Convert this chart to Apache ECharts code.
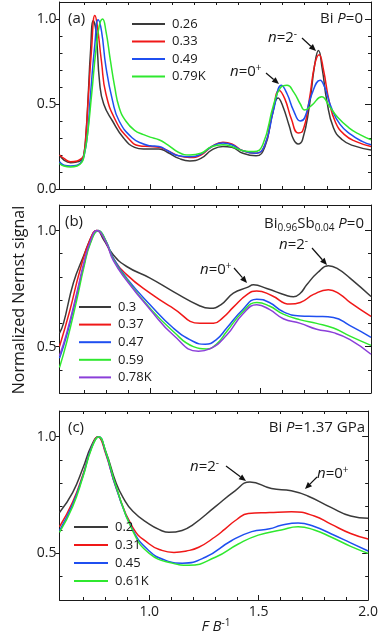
<!DOCTYPE html>
<html>
<head>
<meta charset="utf-8">
<script src="https://cdn.jsdelivr.net/npm/echarts@6/dist/echarts.min.js"></script>
<style>
  html, body { margin: 0; padding: 0; background: #fff; }
  #main { width: 381px; height: 636px; }
</style>
</head>
<body>
<div id="main"></div>
<script>
// ---- data: [F B^-1, normalized Nernst signal] ----
// (a) Bi, P=0
var aNames = ['0.26', '0.33', '0.49', '0.79K'];
var a026 = [[0.59,0.20],[0.61,0.17],[0.64,0.155],[0.67,0.16],[0.69,0.17],[0.70,0.20],[0.71,0.33],[0.72,0.55],[0.73,0.80],[0.743,0.99],[0.755,0.93],[0.772,0.62],[0.79,0.50],[0.83,0.40],[0.88,0.30],[0.93,0.245],[0.97,0.235],[1.0,0.235],[1.04,0.235],[1.08,0.215],[1.13,0.18],[1.18,0.165],[1.23,0.18],[1.28,0.23],[1.33,0.25],[1.37,0.245],[1.42,0.21],[1.48,0.195],[1.52,0.25],[1.55,0.42],[1.58,0.535],[1.60,0.49],[1.63,0.37],[1.65,0.29],[1.67,0.265],[1.69,0.29],[1.72,0.48],[1.745,0.73],[1.762,0.814],[1.78,0.70],[1.80,0.52],[1.83,0.36],[1.87,0.29],[1.92,0.255],[2.0,0.23]];
var a033 = [[0.59,0.20],[0.61,0.18],[0.64,0.16],[0.67,0.165],[0.69,0.18],[0.70,0.20],[0.71,0.32],[0.72,0.53],[0.735,0.82],[0.75,1.02],[0.76,0.97],[0.78,0.75],[0.80,0.56],[0.845,0.40],[0.90,0.30],[0.95,0.255],[1.0,0.25],[1.04,0.245],[1.08,0.225],[1.13,0.195],[1.18,0.185],[1.23,0.20],[1.28,0.25],[1.33,0.275],[1.37,0.265],[1.42,0.225],[1.48,0.21],[1.52,0.26],[1.555,0.45],[1.585,0.58],[1.61,0.53],[1.64,0.41],[1.67,0.33],[1.69,0.34],[1.72,0.52],[1.745,0.73],[1.765,0.79],[1.785,0.70],[1.81,0.52],[1.84,0.39],[1.88,0.32],[1.93,0.28],[2.0,0.25]];
var a049 = [[0.59,0.16],[0.61,0.14],[0.64,0.135],[0.67,0.14],[0.69,0.16],[0.70,0.19],[0.715,0.30],[0.73,0.55],[0.75,0.85],[0.765,0.995],[0.78,0.93],[0.80,0.72],[0.83,0.52],[0.86,0.40],[0.92,0.30],[0.97,0.265],[1.0,0.255],[1.04,0.25],[1.08,0.225],[1.13,0.195],[1.18,0.19],[1.23,0.205],[1.28,0.25],[1.33,0.27],[1.37,0.26],[1.42,0.225],[1.48,0.21],[1.52,0.26],[1.56,0.47],[1.595,0.61],[1.62,0.56],[1.65,0.46],[1.68,0.40],[1.70,0.42],[1.73,0.55],[1.77,0.64],[1.79,0.60],[1.82,0.48],[1.86,0.38],[1.91,0.32],[1.96,0.28],[2.0,0.26]];
var a079 = [[0.59,0.15],[0.61,0.135],[0.64,0.13],[0.67,0.135],[0.69,0.155],[0.70,0.19],[0.715,0.30],[0.735,0.55],[0.755,0.82],[0.77,0.96],[0.785,1.0],[0.80,0.93],[0.82,0.76],[0.84,0.60],[0.86,0.48],[0.89,0.40],[0.93,0.345],[0.97,0.32],[1.0,0.305],[1.04,0.29],[1.08,0.26],[1.13,0.215],[1.18,0.20],[1.23,0.21],[1.28,0.25],[1.33,0.26],[1.37,0.25],[1.42,0.225],[1.47,0.22],[1.51,0.26],[1.56,0.50],[1.59,0.595],[1.62,0.61],[1.65,0.57],[1.68,0.50],[1.70,0.465],[1.73,0.49],[1.777,0.543],[1.81,0.49],[1.85,0.42],[1.90,0.36],[1.95,0.32],[2.0,0.29]];

// (b) Bi0.96Sb0.04, P=0
var bNames = ['0.3', '0.37', '0.47', '0.59', '0.78K'];
var b030 = [[0.59,0.558],[0.608,0.60],[0.653,0.775],[0.698,0.888],[0.743,0.99],[0.759,1.0],[0.79,0.96],[0.834,0.895],[0.894,0.845],[1.0,0.795],[1.105,0.737],[1.226,0.675],[1.271,0.665],[1.32,0.68],[1.377,0.73],[1.44,0.755],[1.468,0.766],[1.528,0.75],[1.618,0.72],[1.649,0.715],[1.68,0.73],[1.709,0.766],[1.76,0.82],[1.807,0.848],[1.85,0.835],[1.905,0.795],[2.0,0.716]];
var b037 = [[0.59,0.50],[0.638,0.66],[0.683,0.83],[0.728,0.96],[0.759,1.0],[0.79,0.97],[0.834,0.88],[0.894,0.81],[1.0,0.73],[1.105,0.665],[1.226,0.60],[1.287,0.60],[1.33,0.625],[1.377,0.67],[1.44,0.725],[1.483,0.74],[1.55,0.72],[1.633,0.683],[1.68,0.69],[1.74,0.725],[1.807,0.745],[1.86,0.725],[1.905,0.69],[2.0,0.63]];
var b047 = [[0.59,0.45],[0.623,0.55],[0.668,0.72],[0.70,0.85],[0.73,0.95],[0.766,1.0],[0.80,0.955],[0.834,0.88],[0.894,0.795],[1.0,0.68],[1.105,0.58],[1.196,0.522],[1.249,0.51],[1.30,0.53],[1.347,0.58],[1.42,0.66],[1.483,0.704],[1.54,0.69],[1.603,0.65],[1.68,0.632],[1.754,0.63],[1.83,0.625],[1.905,0.59],[2.0,0.54]];
var b059 = [[0.59,0.41],[0.623,0.52],[0.668,0.70],[0.70,0.84],[0.73,0.945],[0.766,1.0],[0.80,0.955],[0.834,0.875],[0.894,0.79],[1.0,0.665],[1.105,0.565],[1.196,0.50],[1.256,0.49],[1.30,0.51],[1.347,0.565],[1.42,0.65],[1.483,0.69],[1.54,0.675],[1.603,0.64],[1.68,0.615],[1.754,0.60],[1.83,0.58],[1.905,0.545],[2.0,0.505]];
var b078 = [[0.59,0.46],[0.623,0.56],[0.668,0.73],[0.70,0.86],[0.73,0.955],[0.759,1.0],[0.80,0.95],[0.834,0.87],[0.894,0.785],[1.0,0.66],[1.105,0.55],[1.219,0.48],[1.27,0.49],[1.347,0.55],[1.42,0.64],[1.483,0.68],[1.54,0.66],[1.603,0.62],[1.68,0.60],[1.754,0.575],[1.83,0.56],[1.905,0.53],[2.0,0.467]];

// (c) Bi, P=1.37 GPa
var cNames = ['0.2', '0.31', '0.45', '0.61K'];
var c020 = [[0.59,0.675],[0.65,0.76],[0.698,0.868],[0.735,0.96],[0.766,1.0],[0.80,0.94],[0.849,0.80],[0.88,0.74],[0.925,0.68],[1.0,0.625],[1.05,0.60],[1.09,0.59],[1.15,0.598],[1.196,0.62],[1.302,0.70],[1.392,0.768],[1.46,0.806],[1.558,0.778],[1.649,0.768],[1.724,0.746],[1.83,0.697],[1.92,0.66],[2.0,0.65]];
var c031 = [[0.59,0.614],[0.65,0.72],[0.698,0.84],[0.735,0.95],[0.766,1.0],[0.80,0.93],[0.849,0.78],[0.925,0.61],[1.0,0.54],[1.05,0.515],[1.113,0.504],[1.17,0.51],[1.226,0.526],[1.30,0.57],[1.347,0.605],[1.40,0.645],[1.452,0.671],[1.55,0.675],[1.65,0.678],[1.754,0.66],[1.83,0.625],[1.92,0.585],[2.0,0.561]];
var c045 = [[0.59,0.597],[0.65,0.71],[0.698,0.835],[0.735,0.95],[0.77,1.0],[0.80,0.935],[0.849,0.78],[0.925,0.60],[1.0,0.51],[1.075,0.47],[1.151,0.458],[1.256,0.483],[1.377,0.555],[1.468,0.593],[1.55,0.605],[1.603,0.62],[1.68,0.63],[1.754,0.615],[1.83,0.584],[1.92,0.545],[2.0,0.51]];
var c061 = [[0.59,0.59],[0.65,0.70],[0.698,0.83],[0.735,0.945],[0.77,1.0],[0.80,0.94],[0.849,0.785],[0.925,0.595],[1.0,0.50],[1.105,0.458],[1.181,0.449],[1.302,0.483],[1.407,0.54],[1.498,0.578],[1.603,0.60],[1.68,0.614],[1.754,0.60],[1.83,0.57],[1.92,0.53],[2.0,0.50]];

var xLabels = [1.0, 1.5, 2.0];
var yLabelsA = [0.0, 0.5, 1.0];
var yLabelsBC = [0.5, 1.0];

var FONT = '"Open Sans", "DejaVu Sans", sans-serif';
var INK = '#1a1a1a';
var BLACK = '#3a3a3a', RED = '#f01818', BLUE = '#1f4ff0', GREEN = '#2fe82f', PURPLE = '#8b3fd9';

var myChart = echarts.init(document.getElementById('main'));

var grids = [
  { left: 59.5, top: 2, width: 311.5, height: 187 },
  { left: 59.5, top: 205, width: 311.5, height: 188 },
  { left: 59.5, top: 411, width: 311.5, height: 189 }
];
var yRange = [[0, 1.1], [0.3, 1.11], [0.3, 1.11]];
var xMin = 0.59, xMax = 2.0;

function steps(lo, hi, skip) {
  var out = [];
  for (var k = Math.round(lo * 10); k <= Math.round(hi * 10); k++) {
    var v = k / 10;
    if (skip.indexOf(v) < 0) out.push(v);
  }
  return out;
}

var xAxes = [], yAxes = [];
var lineStyle = { color: INK, width: 1 };

grids.forEach(function (g, gi) {
  var ymin = yRange[gi][0], ymax = yRange[gi][1];
  var yMaj = gi === 0 ? yLabelsA : yLabelsBC;
  var yMin = steps(gi === 0 ? 0.1 : 0.4, 1.0, yMaj);
  var xMinor = steps(0.7, 1.9, xLabels);
  var base = { type: 'value', gridIndex: gi, min: xMin, max: xMax, splitLine: { show: false } };
  xAxes.push(Object.assign({}, base, {
    position: 'bottom',
    axisLine: { onZero: false, lineStyle: lineStyle },
    axisTick: { inside: true, length: 5, customValues: xLabels, lineStyle: lineStyle },
    axisLabel: { show: gi === 2, customValues: xLabels, margin: 5,
      formatter: function (v) { return v.toFixed(1); }, fontFamily: FONT, fontSize: 14, color: INK }
  }));
  xAxes.push(Object.assign({}, base, {
    position: 'bottom',
    axisLine: { show: false, onZero: false },
    axisTick: { inside: true, length: 3, customValues: xMinor, lineStyle: lineStyle },
    axisLabel: { show: false }
  }));
  xAxes.push(Object.assign({}, base, {
    position: 'top',
    axisLine: { onZero: false, lineStyle: lineStyle },
    axisTick: { inside: true, length: 3, customValues: steps(0.7, 1.9, []), lineStyle: lineStyle },
    axisLabel: { show: false }
  }));

  var ybase = { type: 'value', gridIndex: gi, min: ymin, max: ymax, splitLine: { show: false } };
  yAxes.push(Object.assign({}, ybase, {
    position: 'left',
    axisLine: { onZero: false, lineStyle: lineStyle },
    axisTick: { inside: false, length: 4, customValues: yMaj, lineStyle: lineStyle },
    axisLabel: { customValues: yMaj, margin: 3,
      formatter: function (v) { return v.toFixed(1); }, fontFamily: FONT, fontSize: 14, color: INK }
  }));
  yAxes.push(Object.assign({}, ybase, {
    position: 'left',
    axisLine: { show: false, onZero: false },
    axisTick: { inside: true, length: 3, customValues: yMin, lineStyle: lineStyle },
    axisLabel: { show: false }
  }));
  yAxes.push(Object.assign({}, ybase, {
    position: 'right',
    axisLine: { onZero: false, lineStyle: lineStyle },
    axisTick: { inside: true, length: 6, customValues: yMaj, lineStyle: lineStyle },
    axisLabel: { show: false }
  }));
  yAxes.push(Object.assign({}, ybase, {
    position: 'right',
    axisLine: { show: false, onZero: false },
    axisTick: { inside: true, length: 3, customValues: yMin, lineStyle: lineStyle },
    axisLabel: { show: false }
  }));
});

function curve(name, data, color, gi) {
  return {
    type: 'line', name: name, data: data,
    xAxisIndex: gi * 3, yAxisIndex: gi * 4,
    showSymbol: false, smooth: 0.5,
    lineStyle: { color: color, width: 1.5 }, itemStyle: { color: color },
    z: 3
  };
}

var series = [
  curve(aNames[0], a026, BLACK, 0), curve(aNames[1], a033, RED, 0),
  curve(aNames[2], a049, BLUE, 0), curve(aNames[3], a079, GREEN, 0),
  curve(bNames[0], b030, BLACK, 1), curve(bNames[1], b037, RED, 1),
  curve(bNames[2], b047, BLUE, 1), curve(bNames[3], b059, GREEN, 1),
  curve(bNames[4], b078, PURPLE, 1),
  curve(cNames[0], c020, BLACK, 2), curve(cNames[1], c031, RED, 2),
  curve(cNames[2], c045, BLUE, 2), curve(cNames[3], c061, GREEN, 2)
];

function legendAt(names, left, top, w, gap) {
  return {
    data: names, orient: 'vertical', left: left, top: top, padding: 0,
    itemWidth: w, itemHeight: 2, itemGap: gap, icon: 'rect', selectedMode: false,
    textStyle: { fontFamily: FONT, fontSize: 13, lineHeight: 14, color: INK, padding: [0, 0, 0, 2] }
  };
}

var rich = {
  t: { fontFamily: FONT, fontSize: 15, fill: INK, color: INK },
  i: { fontFamily: FONT, fontSize: 15, fontStyle: 'italic', color: INK },
  sup: { fontFamily: FONT, fontSize: 10, color: INK, padding: [0, 0, 8, 0] },
  sub: { fontFamily: FONT, fontSize: 10, color: INK, padding: [9, 0, 0, 0] }
};

function txt(text, x, y, align, size) {
  return {
    type: 'text', z: 10,
    style: { text: text, x: x, y: y, align: align || 'left', verticalAlign: 'middle',
      fontFamily: FONT, fontSize: size || 15, fill: INK, rich: rich }
  };
}

function arrow(x1, y1, x2, y2) {
  var dx = x2 - x1, dy = y2 - y1, len = Math.sqrt(dx * dx + dy * dy);
  var ux = dx / len, uy = dy / len, h = 7, w = 3;
  var bx = x2 - ux * h, by = y2 - uy * h;
  return [
    { type: 'line', z: 10, shape: { x1: x1, y1: y1, x2: bx, y2: by }, style: { stroke: '#111', lineWidth: 1.2 } },
    { type: 'polygon', z: 10, shape: { points: [[x2, y2], [bx - uy * w, by + ux * w], [bx + uy * w, by - ux * w]] }, style: { fill: '#111' } }
  ];
}

var graphics = [
  txt('(a)', 68, 19, 'left', 15),
  txt('{t|Bi }{i|P}{t|=0}', 363, 19, 'right'),
  txt('{i|n}{t|=0}{sup|+}', 230, 72),
  txt('{i|n}{t|=2}{sup|-}', 268, 38),
  txt('(b)', 65, 222, 'left', 15),
  txt('{t|Bi}{sub|0.96}{t|Sb}{sub|0.04}{t| }{i|P}{t|=0}', 364, 224, 'right'),
  txt('{i|n}{t|=0}{sup|+}', 200, 270),
  txt('{i|n}{t|=2}{sup|-}', 279, 245),
  txt('(c)', 68, 428, 'left', 15),
  txt('{t|Bi }{i|P}{t|=1.37 GPa}', 365, 428, 'right'),
  txt('{i|n}{t|=2}{sup|-}', 190, 467),
  txt('{i|n}{t|=0}{sup|+}', 317, 474),
  txt('{i|F} {i|B}{sup|-1}', 216, 627, 'center'),
  {
    type: 'text', z: 10, x: 19, y: 300, rotation: Math.PI / 2,
    style: { text: 'Normalized Nernst signal', x: 0, y: 0, align: 'center', verticalAlign: 'middle',
      fontFamily: FONT, fontSize: 16, fill: INK }
  }
]
  .concat(arrow(266, 73, 279, 84))
  .concat(arrow(302, 38, 316, 51))
  .concat(arrow(234, 268, 247, 283))
  .concat(arrow(312, 248, 327, 265))
  .concat(arrow(226, 466, 246, 481))
  .concat(arrow(317, 477, 305, 489));

var option = {
  animation: false,
  backgroundColor: '#fff',
  textStyle: { fontFamily: FONT },
  grid: grids,
  xAxis: xAxes,
  yAxis: yAxes,
  legend: [
    legendAt(aNames, 132, 17, 33, 3.5),
    legendAt(bNames, 79, 300, 32, 3.6),
    legendAt(cNames, 74, 520, 34, 4)
  ],
  graphic: graphics,
  series: series
};

myChart.setOption(option);
</script>
</body>
</html>
